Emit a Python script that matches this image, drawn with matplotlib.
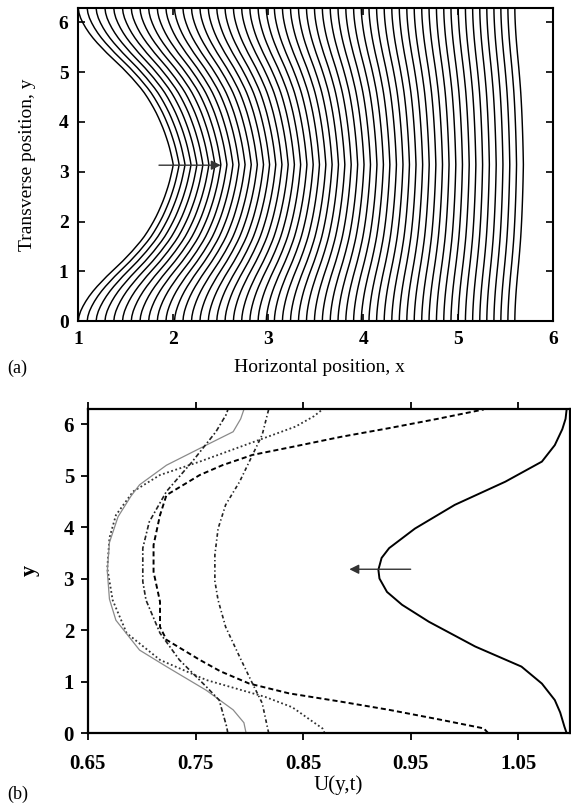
import numpy as np
import matplotlib.pyplot as plt

plt.rcParams['font.family'] = ['Liberation Serif', 'DejaVu Serif']

TWO_PI = 2 * np.pi

# ---------------------------------------------------------------
# (a) front positions: x at the walls (y=0, 2pi) and at mid-channel
# ---------------------------------------------------------------
front_edge = [1.000, 1.094, 1.188, 1.281, 1.374, 1.466, 1.558, 1.650, 1.741, 1.832,
              1.923, 2.013, 2.102, 2.192, 2.281, 2.369, 2.458, 2.545, 2.633, 2.720,
              2.806, 2.893, 2.979, 3.064, 3.149, 3.234, 3.318, 3.402, 3.486, 3.569,
              3.652, 3.734, 3.816, 3.898, 3.979, 4.060, 4.140, 4.220, 4.300, 4.379,
              4.458, 4.536, 4.615, 4.692, 4.770, 4.847, 4.923, 4.999, 5.075, 5.151,
              5.226, 5.300, 5.375, 5.448, 5.522, 5.595]
front_tip = [2.000, 2.062, 2.124, 2.187, 2.249, 2.312, 2.375, 2.438, 2.501, 2.565,
             2.628, 2.692, 2.756, 2.821, 2.885, 2.950, 3.014, 3.079, 3.144, 3.210,
             3.275, 3.341, 3.407, 3.473, 3.539, 3.606, 3.672, 3.739, 3.806, 3.873,
             3.941, 4.008, 4.076, 4.144, 4.212, 4.280, 4.349, 4.418, 4.486, 4.555,
             4.625, 4.694, 4.764, 4.834, 4.903, 4.974, 5.044, 5.115, 5.185, 5.256,
             5.327, 5.399, 5.470, 5.542, 5.613, 5.685]

# front shape: fraction of the bulge vs distance from the wall
wall_dist = [0.0, 0.1, 0.2, 0.3, 0.4, 0.5, 0.6, 0.7, 0.8, 0.9, 1.0, 1.1, 1.2,
             1.3, 1.4, 1.5, 1.6, 1.7, 1.8, 1.9, 2.0, 2.1, 2.2, 2.3, 2.4, 2.5,
             2.6, 2.7, 2.8, 2.9, 3.0, 3.07, np.pi]
bulge = [0.0, 0.008, 0.025, 0.05, 0.08, 0.115, 0.155, 0.20, 0.25, 0.30, 0.355,
         0.41, 0.465, 0.515, 0.565, 0.61, 0.655, 0.695, 0.73, 0.762, 0.792,
         0.82, 0.845, 0.868, 0.89, 0.91, 0.928, 0.945, 0.96, 0.973, 0.985,
         0.993, 1.0]

# ---------------------------------------------------------------
# (b) velocity profiles U(y,t)
# ---------------------------------------------------------------
u_solid = [1.095, 1.093, 1.089, 1.084, 1.072, 1.053, 1.010, 0.967, 0.942, 0.928, 0.921,
           0.920, 0.923, 0.930, 0.954, 0.991, 1.038, 1.072, 1.084, 1.091, 1.094, 1.095]
y_solid = [0.0, 0.12, 0.40, 0.64, 0.96, 1.29, 1.68, 2.16, 2.49, 2.74, 3.00,
           3.17, 3.40, 3.59, 3.97, 4.43, 4.88, 5.27, 5.59, 5.90, 6.10, TWO_PI]

u_dash = [1.022, 1.018, 0.975, 0.930, 0.885, 0.837, 0.800, 0.773, 0.754, 0.723, 0.717,
          0.717, 0.711, 0.711, 0.717, 0.723, 0.754, 0.775, 0.803, 0.841, 0.885, 0.930,
          0.975, 1.018]
y_dash = [0.0, 0.09, 0.27, 0.45, 0.61, 0.77, 0.96, 1.20, 1.42, 1.81, 2.06,
          2.55, 3.13, 3.65, 4.23, 4.62, 5.01, 5.20, 5.40, 5.56, 5.75, 5.92,
          6.10, TWO_PI]

u_dot = [0.870, 0.868, 0.857, 0.840, 0.815, 0.760, 0.717, 0.686, 0.673, 0.668, 0.670,
         0.676, 0.692, 0.717, 0.754, 0.809, 0.843, 0.860, 0.868]
y_dot = [0.0, 0.09, 0.25, 0.50, 0.70, 1.03, 1.42, 1.94, 2.58, 3.20, 3.79,
         4.23, 4.69, 5.01, 5.27, 5.69, 5.95, 6.15, TWO_PI]

u_grey = [0.797, 0.795, 0.785, 0.760, 0.723, 0.698, 0.676, 0.670, 0.668, 0.670,
          0.678, 0.690, 0.698, 0.723, 0.760, 0.785, 0.792, 0.795]
y_grey = [0.0, 0.20, 0.45, 0.83, 1.29, 1.61, 2.19, 2.60, 3.14, 3.70,
          4.20, 4.60, 4.82, 5.20, 5.59, 5.85, 6.10, TWO_PI]

u_dd1 = [0.780, 0.779, 0.772, 0.760, 0.735, 0.717, 0.704, 0.701, 0.701, 0.707,
         0.723, 0.747, 0.769, 0.779, 0.780]
y_dd1 = [0.0, 0.12, 0.64, 0.90, 1.42, 1.94, 2.58, 2.94, 3.59, 4.10,
         4.69, 5.27, 5.85, 6.20, TWO_PI]

u_dd2 = [0.818, 0.812, 0.803, 0.791, 0.778, 0.771, 0.768, 0.768, 0.771, 0.778,
         0.791, 0.803, 0.812, 0.818]
y_dd2 = [0.0, 0.58, 0.96, 1.48, 2.06, 2.58, 2.95, 3.46, 3.97, 4.43,
         4.88, 5.40, 5.79, TWO_PI]

# arrow markers
arrow_a = ((1.85, 3.13), (2.50, 3.13))
arrow_b = ((0.950, 3.18), (0.893, 3.18))

fig = plt.figure(figsize=(5.71, 8.05), dpi=100)

# ---------------- panel (a) ----------------
ax1 = fig.add_axes([0.137, 0.601, 0.832, 0.389])
yy = np.concatenate([wall_dist, TWO_PI - np.array(wall_dist[::-1])[1:]])
ff = np.concatenate([bulge, np.array(bulge[::-1])[1:]])
for e, t in zip(front_edge, front_tip):
    ax1.plot(e + (t - e) * ff, yy, color='black', lw=1.05, solid_capstyle='butt')

ax1.annotate('', xy=arrow_a[1], xytext=arrow_a[0],
             arrowprops=dict(arrowstyle='-|>', color='#333333', lw=1.0,
                             mutation_scale=14, shrinkA=0, shrinkB=0))
ax1.set_xlim(1, 6)
ax1.set_ylim(0, TWO_PI)
ax1.set_xticks([1, 2, 3, 4, 5, 6])
ax1.set_yticks([0, 1, 2, 3, 4, 5, 6])
ax1.tick_params(direction='in', length=5, width=1.2, top=True, right=True,
                labelsize=14, pad=7)
for lab in ax1.get_xticklabels() + ax1.get_yticklabels():
    lab.set_fontweight('bold')
for sp in ax1.spines.values():
    sp.set_linewidth(1.5)

fig.text(0.56, 0.543, 'Horizontal position, x', ha='center', va='center', fontsize=14)
fig.text(0.048, 0.795, 'Transverse position, y', ha='center', va='center',
         rotation=90, fontsize=14)
fig.text(0.012, 0.543, '(a)', ha='left', va='center', fontsize=13)

# ---------------- panel (b) ----------------
ax2 = fig.add_axes([0.154, 0.0894, 0.844, 0.402])
ax2.plot(u_solid, y_solid, color='black', lw=1.4)
ax2.plot(u_dash, y_dash, color='black', lw=1.4, dashes=(2.6, 1.6))
ax2.plot(u_dot, y_dot, color='#333333', lw=1.3, dashes=(1.0, 1.4))
ax2.plot(u_grey, y_grey, color='#8a8a8a', lw=0.9)
ax2.plot(u_dd1, y_dd1, color='#222222', lw=1.2, dashes=(2.8, 1.4, 1.0, 1.4))
ax2.plot(u_dd2, y_dd2, color='#222222', lw=1.2, dashes=(2.2, 1.6, 0.8, 1.6))

ax2.annotate('', xy=arrow_b[1], xytext=arrow_b[0],
             arrowprops=dict(arrowstyle='-|>', color='#333333', lw=1.0,
                             mutation_scale=14, shrinkA=0, shrinkB=0))
ax2.set_xlim(0.65, 1.098)
ax2.set_ylim(0, TWO_PI)
ax2.set_xticks([0.65, 0.75, 0.85, 0.95, 1.05])
ax2.set_xticklabels(['0.65', '0.75', '0.85', '0.95', '1.05'])
ax2.set_yticks([0, 1, 2, 3, 4, 5, 6])
ax2.tick_params(direction='out', length=5, width=1.3, top=True, labelsize=15, pad=5)
ax2.tick_params(axis='x', pad=10)
ax2.tick_params(axis='y', right=False)
for lab in ax2.get_xticklabels() + ax2.get_yticklabels():
    lab.set_fontweight('bold')
for sp in ax2.spines.values():
    sp.set_linewidth(1.6)

fig.text(0.592, 0.025, 'U(y,t)', ha='center', va='center', fontsize=15)
fig.text(0.052, 0.291, 'y', ha='center', va='center', rotation=90,
         fontsize=16, fontweight='bold')
fig.text(0.012, 0.013, '(b)', ha='left', va='center', fontsize=13)

fig.savefig('out.png', dpi=100)
